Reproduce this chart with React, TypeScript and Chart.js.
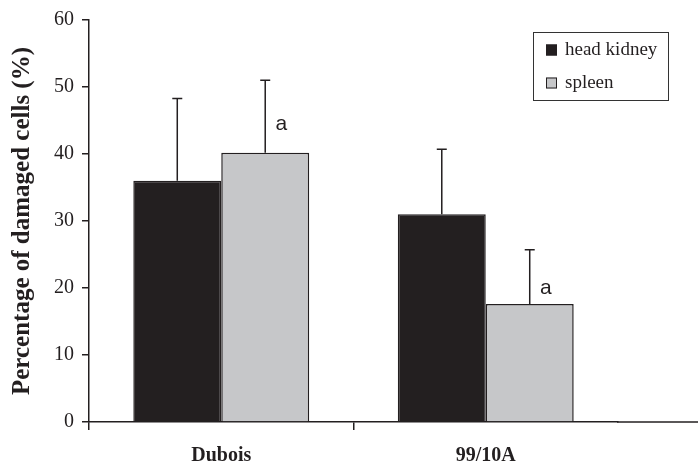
import React, { useEffect, useRef } from "react";
import { Chart, registerables } from "chart.js";

Chart.register(...registerables);

const categories = ["Dubois", "99/10A"];
const seriesNames = ["head kidney", "spleen"];
const headKidney = [36.0, 31.0];
const spleen = [40.2, 17.6];
const headKidneyErr = [12.3, 9.7];
const spleenErr = [10.8, 8.1];
const spleenMarks = ["a", "a"];
const spleenMarkLevel = [44.4, 19.9];
const yTicks = [0, 10, 20, 30, 40, 50, 60];

const SERIF = "'Liberation Serif', 'Times New Roman', serif";
const SANS = "'Liberation Sans', Arial, sans-serif";
const INK = "#231f20";
const GREY = "#c6c7c9";

const extrasPlugin = {
  id: "extras",
  afterDatasetsDraw(chart: any) {
    const { ctx, chartArea } = chart;
    const yScale = chart.scales.y;
    const errs = [headKidneyErr, spleenErr];
    ctx.save();
    ctx.strokeStyle = INK;
    ctx.lineWidth = 1.5;
    chart.data.datasets.forEach((ds: any, di: number) => {
      const meta = chart.getDatasetMeta(di);
      meta.data.forEach((bar: any, i: number) => {
        const v = ds.data[i];
        const top = yScale.getPixelForValue(v + errs[di][i]);
        const base = yScale.getPixelForValue(v);
        ctx.beginPath();
        ctx.moveTo(bar.x, base);
        ctx.lineTo(bar.x, top);
        ctx.moveTo(bar.x - 5, top);
        ctx.lineTo(bar.x + 5, top);
        ctx.stroke();
      });
    });
    // significance marks
    const spMeta = chart.getDatasetMeta(1);
    ctx.fillStyle = INK;
    ctx.font = `21px ${SANS}`;
    ctx.textAlign = "center";
    ctx.textBaseline = "middle";
    spMeta.data.forEach((bar: any, i: number) => {
      ctx.fillText(spleenMarks[i], bar.x + 16, yScale.getPixelForValue(spleenMarkLevel[i]));
    });
    // extend x axis line to right edge
    ctx.beginPath();
    ctx.lineWidth = 1.5;
    ctx.moveTo(chartArea.right - 1, chartArea.bottom);
    ctx.lineTo(chart.width, chartArea.bottom);
    ctx.stroke();
    // legend
    const lx = 533, ly = 32, lw = 135, lh = 68;
    ctx.lineWidth = 1;
    ctx.strokeStyle = "#333";
    ctx.strokeRect(lx + 0.5, ly + 0.5, lw, lh);
    ctx.font = `19px ${SERIF}`;
    ctx.textAlign = "left";
    chart.data.datasets.forEach((ds: any, di: number) => {
      const cy = ly + 18 + di * 33;
      ctx.fillStyle = ds.backgroundColor;
      ctx.fillRect(lx + 13, cy - 5.5, 11, 11);
      ctx.strokeStyle = INK;
      ctx.strokeRect(lx + 13.5, cy - 5, 10, 10);
      ctx.fillStyle = INK;
      ctx.fillText(ds.label, lx + 32, cy);
    });
    ctx.restore();
  },
};

export default function App() {
  const ref = useRef<HTMLCanvasElement>(null);
  useEffect(() => {
    document.body.style.margin = "0";
    const chart = new Chart(ref.current!, {
      type: "bar",
      data: {
        labels: categories,
        datasets: [
          {
            label: seriesNames[0],
            data: headKidney,
            backgroundColor: INK,
            borderColor: INK,
            borderWidth: 1.5,
          },
          {
            label: seriesNames[1],
            data: spleen,
            backgroundColor: GREY,
            borderColor: INK,
            borderWidth: 1.5,
          },
        ],
      },
      options: {
        animation: false,
        responsive: false,
        layout: { padding: { top: 18, right: 80, left: 0, bottom: 0 } },
        datasets: { bar: { categoryPercentage: 0.665, barPercentage: 1 } },
        plugins: { legend: { display: false }, tooltip: { enabled: false } },
        scales: {
          x: {
            afterFit: (s: any) => {
              s.height = 44;
            },
            border: { color: INK, width: 1.5 },
            grid: {
              drawOnChartArea: false,
              offset: true,
              tickLength: 8,
              lineWidth: 1.5,
              color: (c: any) => (c.type === "tick" ? INK : "rgba(0,0,0,0)"),
            },
            ticks: {
              color: INK,
              padding: 14,
              font: { family: SERIF, size: 20, weight: "bold" },
            },
          },
          y: {
            min: 0,
            max: 60,
            afterFit: (s: any) => {
              s.width = 89;
            },
            afterBuildTicks: (s: any) => {
              s.ticks = yTicks.map((v) => ({ value: v }));
            },
            border: { color: INK, width: 1.5 },
            grid: { drawOnChartArea: false, tickLength: 7, lineWidth: 1.5, color: INK },
            ticks: {
              color: INK,
              padding: 8,
              font: { family: SERIF, size: 20 },
            },
            title: {
              display: true,
              text: "Percentage of damaged cells (%)",
              color: INK,
              padding: { top: 8, bottom: 0 },
              font: { family: SERIF, size: 25, weight: "bold" },
            },
          },
        },
      },
      plugins: [extrasPlugin],
    });
    return () => chart.destroy();
  }, []);
  return (
    <div style={{ width: 698, height: 466 }}>
      <canvas ref={ref} width={698} height={466} style={{ display: "block" }} />
    </div>
  );
}
